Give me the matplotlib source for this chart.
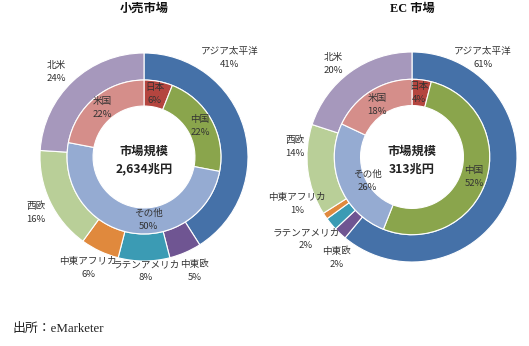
import matplotlib
matplotlib.use("Agg")
import matplotlib.pyplot as plt

plt.rcParams['font.family'] = ['Noto Sans CJK JP', 'DejaVu Sans']

# ---- data ----
regions = ['アジア太平洋', '中東欧', 'ラテンアメリカ', '中東アフリカ', '西欧', '北米']
retail_regions = [41, 5, 8, 6, 16, 24]
ec_regions = [61, 2, 2, 1, 14, 20]

countries = ['日本', '中国', 'その他', '米国']
retail_countries = [6, 22, 50, 22]
ec_countries = [4, 52, 26, 18]

titles = ['小売市場', 'EC 市場']
market_sizes = ['2,634兆円', '313兆円']
source = '出所：eMarketer'

region_colors = ['#4571A8', '#6F5592', '#3B9BB4', '#E0893D', '#B9CF98', '#A698BC']
country_colors = ['#B4453F', '#8AA54C', '#95ABD2', '#D58E8A']

W, H = 529, 346
fig = plt.figure(figsize=(W / 100, H / 100), dpi=100)

def px(x, y):
    return x / W, 1 - y / H

# layout: chart centers & radii in pixels
charts = [
    dict(cx=144, cy=157, r=104, x0=0, x1=264.5,
         rvals=retail_regions, cvals=retail_countries, title=titles[0], size=market_sizes[0],
         rlab=[(230, 58), (195, 271), (146, 271), (88, 268), (36, 213), (56, 72)],
         clab=[(155, 94), (200, 126), (148, 220), (102, 108)]),
    dict(cx=412, cy=157, r=105, x0=264.5, x1=529,
         rvals=ec_regions, cvals=ec_countries, title=titles[1], size=market_sizes[1],
         rlab=[(483, 58), (337, 258), (306, 239), (297, 204), (295, 147), (333, 64)],
         clab=[(419, 93), (474, 177), (367, 181), (377, 105)]),
]

for ch in charts:
    ax = fig.add_axes([ch['x0'] / W, 0, (ch['x1'] - ch['x0']) / W, 1])
    r = ch['r']
    ax.axis('off')
    ax.pie(ch['rvals'], radius=1.0, startangle=90, counterclock=False,
           colors=region_colors,
           wedgeprops=dict(width=0.26, edgecolor='white', linewidth=0.8))
    ax.pie(ch['cvals'], radius=0.74, startangle=90, counterclock=False,
           colors=country_colors,
           wedgeprops=dict(width=0.25, edgecolor='white', linewidth=0.8))
    ax.set_xlim(-(ch['cx'] - ch['x0']) / r, (ch['x1'] - ch['cx']) / r)
    ax.set_ylim(-(H - ch['cy']) / r, ch['cy'] / r)
    ax.set_aspect('auto')

    for name, val, (lx, ly) in zip(regions, ch['rvals'], ch['rlab']):
        fig.text(*px(lx, ly), f'{name}\n{val}%', ha='center', va='center',
                 fontsize=6.9, color='#333333', linespacing=1.6)
    for name, val, (lx, ly) in zip(countries, ch['cvals'], ch['clab']):
        fig.text(*px(lx, ly), f'{name}\n{val}%', ha='center', va='center',
                 fontsize=6.9, color='#333333', linespacing=1.6)
    fig.text(*px(ch['cx'], ch['cy'] + 3), f'市場規模\n{ch["size"]}', ha='center', va='center',
             fontsize=8.8, fontweight='bold', color='#222222', linespacing=1.5)
    fig.text(*px(ch['cx'], 9), ch['title'], ha='center', va='center',
             fontsize=8.8, fontweight='bold', color='#111111',
             family=['Liberation Serif', 'Noto Sans CJK JP'])

fig.text(*px(13, 329), source, ha='left', va='center', fontsize=9.3,
         color='#222222', family=['Liberation Serif', 'Noto Sans CJK JP'])

fig.savefig('out.png', dpi=100, facecolor='white')
